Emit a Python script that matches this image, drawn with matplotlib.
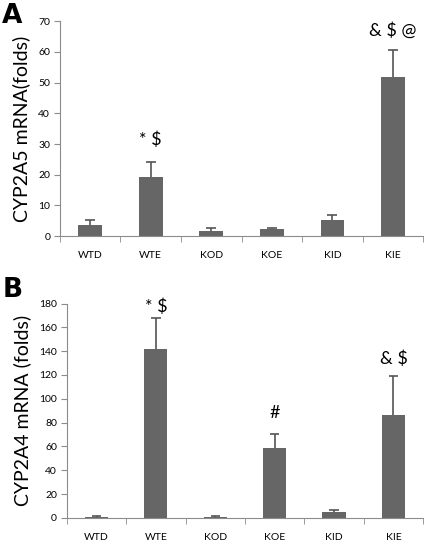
import numpy as np
import matplotlib.pyplot as plt

plt.rcParams['font.family'] = ['Lato', 'DejaVu Sans']

groups = ['WTD', 'WTE', 'KOD', 'KOE', 'KID', 'KIE']

# panel A: CYP2A5
a_mean = [3.7, 19.2, 1.8, 2.3, 5.3, 51.8]
a_err = [1.7, 5.1, 0.7, 0.4, 1.7, 8.8]
a_marks = {1: ('* $', 31.5), 5: ('& $ @', 67)}

# panel B: CYP2A4
b_mean = [1.0, 142, 1.0, 59, 5.0, 86]
b_err = [0.5, 26, 0.3, 11.5, 2.0, 33]
b_marks = {1: ('* $', 177), 3: ('#', 88), 5: ('& $', 134)}

bar_col = '#666666'
err_col = '#555555'
axis_col = '#8c8c8c'


def draw_panel(ax, mean, err, marks, ylabel, ymax, step):
    x = np.arange(len(groups))
    mean = np.array(mean)
    top = mean + np.array(err)
    ax.bar(x, mean, width=0.39, color=bar_col, zorder=2)
    # upper-only error bars with a cap at the top
    ax.vlines(x, mean, top, color=err_col, lw=1.2, zorder=3)
    ax.hlines(top, x - 0.08, x + 0.08, color=err_col, lw=1.2, zorder=3)
    for i, (txt, y) in marks.items():
        ax.text(x[i], y, txt, ha='center', va='center', fontsize=13, color='black')
    ax.set_xlim(-0.5, len(groups) - 0.5)
    ax.set_ylim(0, ymax)
    ax.set_yticks(np.arange(0, ymax + 1, step))
    ax.tick_params(axis='y', labelsize=7.5, length=4, color=axis_col, pad=3)
    ax.set_xticks(x)
    ax.set_xticklabels(groups, fontsize=7.5)
    ax.tick_params(axis='x', length=0, pad=11)
    ax.set_xticks(np.arange(-0.5, len(groups)), minor=True)
    ax.tick_params(axis='x', which='minor', length=4, color=axis_col)
    for s in ['top', 'right']:
        ax.spines[s].set_visible(False)
    for s in ['left', 'bottom']:
        ax.spines[s].set_color(axis_col)
    ax.set_ylabel(ylabel, fontsize=14, labelpad=6)


fig = plt.figure(figsize=(4.34, 5.44), dpi=100)
ax1 = fig.add_axes([0.138, 0.566, 0.837, 0.395])
ax2 = fig.add_axes([0.154, 0.048, 0.821, 0.394])

draw_panel(ax1, a_mean, a_err, a_marks, 'CYP2A5 mRNA(folds)', 70, 10)
draw_panel(ax2, b_mean, b_err, b_marks, 'CYP2A4 mRNA (folds)', 180, 20)

fig.text(0.005, 1 - 16 / 544, 'A', fontsize=19, fontweight='bold',
         ha='left', va='center', family='DejaVu Sans')
fig.text(0.005, 1 - 290 / 544, 'B', fontsize=19, fontweight='bold',
         ha='left', va='center', family='DejaVu Sans')

fig.savefig('out.png', dpi=100)
